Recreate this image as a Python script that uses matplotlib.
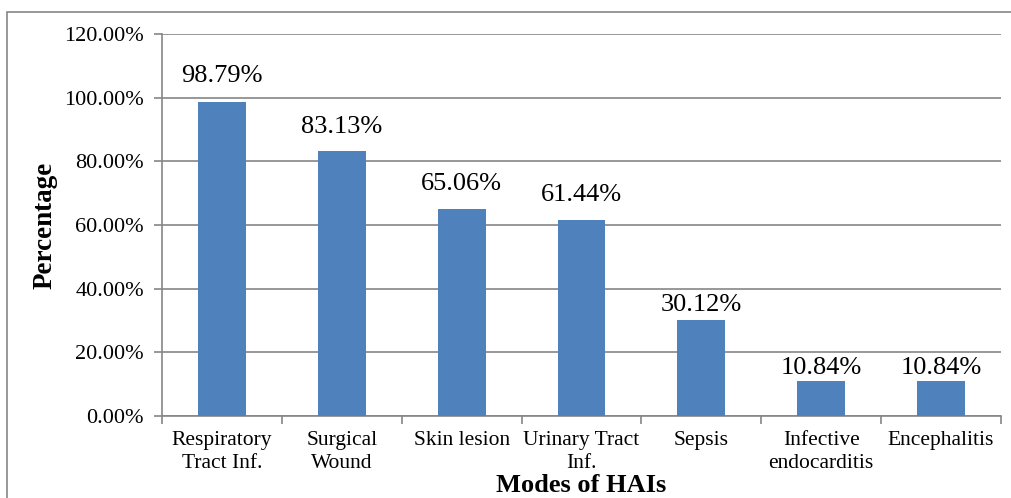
import matplotlib.pyplot as plt
from matplotlib.patches import Rectangle
from matplotlib.ticker import FuncFormatter

# data
categories = ["Respiratory\nTract Inf.", "Surgical\nWound", "Skin lesion",
              "Urinary Tract\nInf.", "Sepsis", "Infective\nendocarditis",
              "Encephalitis"]
values = [98.79, 83.13, 65.06, 61.44, 30.12, 10.84, 10.84]
yticks = [0, 20, 40, 60, 80, 100, 120]

# label offset above bar top (points), as excel placed them
label_gap = [18.5, 17.5, 18, 18, 11, 9.5, 9.5]

plt.rcParams['font.family'] = ['Liberation Serif', 'DejaVu Serif']

fig = plt.figure(figsize=(10.11, 4.98), dpi=100)
ax = fig.add_axes([162 / 1011, 1 - 416 / 498, 839 / 1011, 382 / 498])

# outer border around the chart
fig.patches.append(Rectangle((7 / 1011, -0.05), 1.1, 0.05 + 1 - 12 / 498,
                             transform=fig.transFigure, fill=False,
                             edgecolor='#868686', linewidth=1.2))

x = list(range(len(categories)))
bars = ax.bar(x, values, width=0.4, color='#4F81BD', zorder=3)
for xi, v, g in zip(x, values, label_gap):
    ax.annotate(f"{v:.2f}%", (xi, v), xytext=(0, g), textcoords='offset points',
                ha='center', va='center', fontsize=19)

ax.set_xlim(-0.5, len(categories) - 0.5)
ax.set_ylim(0, 120)
ax.set_yticks(yticks)
ax.yaxis.set_major_formatter(FuncFormatter(lambda v, p: f"{v:.2f}%"))
ax.yaxis.grid(True, color='#868686', linewidth=1.2, zorder=0)

ax.set_xticks([i - 0.5 for i in range(len(categories) + 1)], minor=False)
ax.set_xticklabels([])
ax.set_xticks(x, minor=True)
ax.set_xticklabels(categories, minor=True, fontsize=15.5, linespacing=1.3)
ax.tick_params(axis='x', which='minor', length=0, pad=11)
ax.tick_params(axis='x', which='major', length=6, color='#868686', width=1.2)
ax.tick_params(axis='y', length=6, color='#868686', width=1.2, labelsize=16, pad=7)

for s in ['top', 'right']:
    ax.spines[s].set_visible(False)
for s in ['left', 'bottom']:
    ax.spines[s].set_color('#868686')
    ax.spines[s].set_linewidth(1.2)

fig.text(581 / 1011, 1 - 485 / 498, "Modes of HAIs", ha='center', va='center',
         fontsize=19, fontweight='bold')
fig.text(45 / 1011, 1 - 225 / 498, "Percentage", ha='center', va='center',
         rotation=90, fontsize=19.5, fontweight='bold')

fig.savefig("out.png", dpi=100)
